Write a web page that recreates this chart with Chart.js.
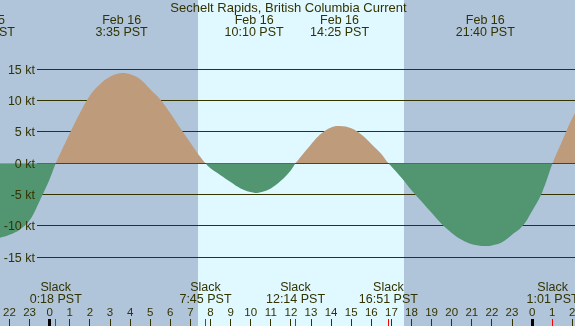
<!DOCTYPE html>
<html><head><meta charset="utf-8">
<script src="https://cdn.jsdelivr.net/npm/chart.js@4/dist/chart.umd.min.js"></script>
<style>html,body{margin:0;padding:0;background:#b0c4de;}#c{display:block;}</style>
</head><body>
<canvas id="c" width="575" height="326"></canvas>
<script>
// ---- data (hours relative to Feb 16 00:00 PST) ----
const title = 'Sechelt Rapids, British Columbia Current';
const hours = [-3.0,-2.5,-2.0,-1.5,-1.0,-0.5,0.0,0.3,0.5,1.0,1.5,2.0,2.5,3.0,3.58,4.0,4.5,5.0,5.5,6.0,6.5,7.0,7.5,7.75,
  8.0,8.5,9.0,9.5,10.17,10.5,11.0,11.5,12.0,12.23,12.5,13.0,13.5,14.0,14.42,15.0,15.5,16.0,16.5,16.85,
  17.0,17.5,18.0,18.5,19.0,19.5,20.0,20.5,21.0,21.67,22.0,22.5,23.0,23.5,24.0,24.5,25.02,25.5,26.0,26.5];
const knots = [-12.3,-11.9,-11.4,-10.6,-9.1,-6.0,-2.5,0,1.4,4.8,8.0,10.8,12.6,13.8,14.4,14.2,13.4,11.8,10.2,8.0,5.6,3.3,1.0,0,
  -0.8,-1.9,-3.0,-4.0,-4.7,-4.6,-4.0,-2.8,-1.1,0,1.1,3.0,4.7,5.7,5.95,5.6,4.6,3.1,1.5,0,
  -0.5,-2.3,-4.3,-6.1,-7.9,-9.7,-11.1,-12.2,-12.9,-13.2,-13.1,-12.6,-11.4,-10.1,-7.6,-4.6,0,3.6,7.2,9.8];
const peakHours = [-3.2, 3.58, 10.17, 14.42, 21.67];
const peakDates = ['Feb 15','Feb 16','Feb 16','Feb 16','Feb 16'];
const peakTimes = ['20:49 PST','3:35 PST','10:10 PST','14:25 PST','21:40 PST'];
const slackHours = [0.3, 7.75, 12.23, 16.85, 25.02];
const slackTimes = ['0:18 PST','7:45 PST','12:14 PST','16:51 PST','1:01 PST'];
const daylight = [[7.38, 17.63]];
const yTicks = [15,10,5,0,-5,-10,-15];
const yTickLabels = ['15 kt','10 kt','5 kt','0 kt','-5 kt','-10 kt','-15 kt'];
const hourTicks = [-2,-1,0,1,2,3,4,5,6,7,8,9,10,11,12,13,14,15,16,17,18,19,20,21,22,23,24,25,26];
const hourLabels = ['22','23','0','1','2','3','4','5','6','7','8','9','10','11','12','13','14','15','16','17','18','19','20','21','22','23','0','1','2'];
const midnights = [0, 24];

// ---- style ----
const NIGHT = '#b0c4da', DAY = '#e0f8ff', FLOOD = '#bd9b7b', EBB = '#519571', INK = '#333300';
const FONT = '12.5px "Liberation Sans", Arial, sans-serif';
const TFONT = '13px "Liberation Sans", Arial, sans-serif';
const HFONT = '11.5px "Liberation Sans", Arial, sans-serif';

const deco = {
  id: 'deco',
  beforeDraw(chart) {
    const ctx = chart.ctx, x = chart.scales.x, W = chart.width, H = chart.height;
    ctx.save();
    ctx.fillStyle = NIGHT; ctx.fillRect(0, 0, W, H);
    ctx.fillStyle = DAY;
    daylight.forEach(([a, b]) => {
      const xa = Math.round(x.getPixelForValue(a)), xb = Math.round(x.getPixelForValue(b));
      ctx.fillRect(xa, 0, xb - xa, H);
    });
    const y = chart.scales.y;
    ctx.strokeStyle = INK; ctx.lineWidth = 1;
    yTicks.forEach(v => {
      const py = Math.round(y.getPixelForValue(v) - 0.5) + 0.5;
      ctx.beginPath(); ctx.moveTo(37, py); ctx.lineTo(W, py); ctx.stroke();
    });
    ctx.restore();
  },
  afterDatasetsDraw(chart) {
    const ctx = chart.ctx, x = chart.scales.x, y = chart.scales.y, W = chart.width, H = chart.height;
    ctx.save();
    ctx.fillStyle = INK; ctx.font = FONT;
    ctx.textAlign = 'right'; ctx.textBaseline = 'alphabetic';
    yTicks.forEach((v, i) => {
      const py = y.getPixelForValue(v);
      ctx.fillText(yTickLabels[i], 35, py + 4.5);
    });
    ctx.textAlign = 'center';
    ctx.font = TFONT;
    ctx.fillText(title, W / 2 + 1, 12);
    ctx.font = FONT;
    peakHours.forEach((h, i) => {
      const px = x.getPixelForValue(h);
      ctx.fillText(peakDates[i], px, 24);
      ctx.fillText(peakTimes[i], px, 36);
    });
    slackHours.forEach((h, i) => {
      const px = x.getPixelForValue(h);
      ctx.fillText('Slack', px, 291);
      ctx.fillText(slackTimes[i], px, 303);
    });
    ctx.font = HFONT;
    hourTicks.forEach((h, i) => {
      const px = x.getPixelForValue(h);
      ctx.fillText(hourLabels[i], px, 316);
      if (!midnights.includes(h)) {
        ctx.fillRect(Math.round(px - 0.5), 319, 1, H - 319);
      }
    });
    ctx.fillStyle = '#000000';
    midnights.forEach(h => {
      const px = x.getPixelForValue(h);
      ctx.fillRect(Math.round(px - 1.5), 319, 3, H - 319);
    });
    ctx.fillStyle = '#ff0000';
    slackHours.forEach(h => {
      const px = x.getPixelForValue(h);
      ctx.fillRect(Math.round(px - 0.5), 319, 1, H - 319);
    });
    ctx.restore();
  }
};

new Chart(document.getElementById('c'), {
  type: 'line',
  data: {
    datasets: [{
      data: hours.map((h, i) => ({ x: h, y: knots[i] })),
      borderWidth: 0,
      borderColor: 'rgba(0,0,0,0)',
      pointRadius: 0,
      tension: 0.4,
      fill: { target: 'origin', above: FLOOD, below: EBB }
    }]
  },
  options: {
    responsive: false,
    animation: false,
    devicePixelRatio: 1,
    layout: { padding: 0 },
    plugins: { legend: { display: false }, tooltip: { enabled: false } },
    scales: {
      x: { type: 'linear', min: -2.473, max: 26.134, display: false },
      y: { type: 'linear', min: -25.96, max: 26.06, display: false }
    }
  },
  plugins: [deco]
});
</script>
</body></html>
